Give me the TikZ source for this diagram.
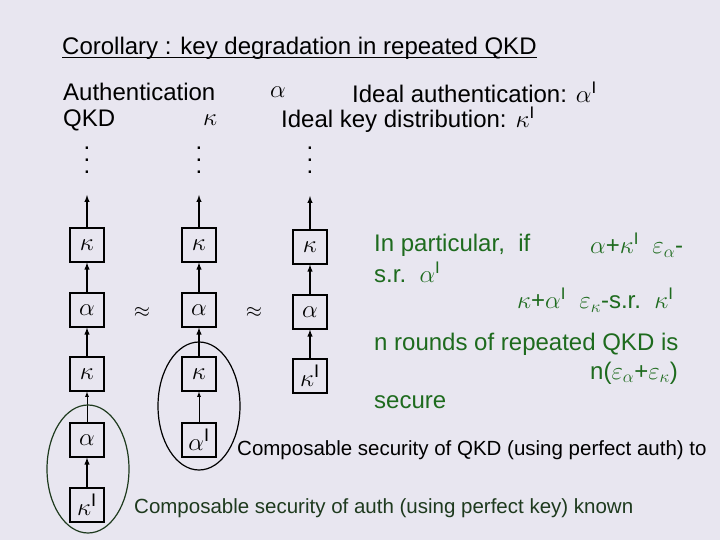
\documentclass[tikz,border=0pt]{standalone}
\usepackage{fontspec}
\setmainfont{Liberation Sans}
\definecolor{bg}{HTML}{E8E6F0}
\definecolor{gr}{HTML}{1E6B1E}
\definecolor{dg}{HTML}{1E3A1E}
\begin{document}
\begin{tikzpicture}[x=1pt,y=-1pt,
  bx/.style={draw,line width=1.2pt,minimum width=34pt,minimum height=34pt,inner sep=0pt,font=\fontsize{26}{26}\selectfont},
  ar/.style={-latex,line width=1.4pt},
  tx/.style={anchor=west,inner sep=0pt,font=\fontsize{24}{26}\selectfont},
  gt/.style={tx,text=gr}]
\fill[bg] (0,0) rectangle (720,540);
\useasboundingbox (0,0) rectangle (720,540);
\node[tx] (title) at (62,48) {Corollary : key degradation in repeated QKD};
\draw[line width=0.9pt] ([yshift=-3pt]title.base west) -- ([yshift=-3pt]title.base east);
\node[tx] (auth) at (63,92) {Authentication};
\node[tx] (qkd) at (63,120) {QKD};
\node[tx] (a0) at (270,92) {$\alpha$};
\node[tx] (k0) at (203,120) {$\kappa$};
\node[tx] (ia) at (352,92) {Ideal authentication: $\alpha^{\mathrm{I}}$};
\node[tx] (ik) at (281,120) {Ideal key distribution: $\kappa^{\mathrm{I}}$};
% column 1
\node[bx] (c1a) at (87,245) {$\kappa$};
\node[bx] (c1b) at (87,310) {$\alpha$};
\node[bx] (c1c) at (87,374) {$\kappa$};
\node[bx] (c1d) at (87,440) {$\alpha$};
\node[bx] (c1e) at (87,505) {$\kappa^{\mathrm{I}}$};
% column 2
\node[bx] (c2a) at (199,245) {$\kappa$};
\node[bx] (c2b) at (199,310) {$\alpha$};
\node[bx] (c2c) at (199,374) {$\kappa$};
\node[bx] (c2d) at (199,440) {$\alpha^{\mathrm{I}}$};
% column 3
\node[bx] (c3a) at (310,247) {$\kappa$};
\node[bx] (c3b) at (310,312) {$\alpha$};
\node[bx] (c3c) at (310,376) {$\kappa^{\mathrm{I}}$};
\coordinate (t1) at (87,195);
\coordinate (t2) at (199,195);
\coordinate (t3) at (310,196);
\draw[ar] (c1a) -- (t1); \draw[ar] (c2a) -- (t2); \draw[ar] (c3a) -- (t3);
\draw[ar] (c1b) -- (c1a); \draw[ar] (c1c) -- (c1b); \draw[ar,line width=0.8pt] (c1d) -- (c1c); \draw[ar] (c1e) -- (c1d);
\draw[ar] (c2b) -- (c2a); \draw[ar] (c2c) -- (c2b); \draw[ar,line width=0.8pt] (c2d) -- (c2c);
\draw[ar] (c3b) -- (c3a); \draw[ar] (c3c) -- (c3b);
\foreach \x/\n in {87/d1,199/d2,310/d3}{
  \node[inner sep=0pt,font=\fontsize{24}{24}\selectfont] (\n a) at (\x,148) {.};
  \node[inner sep=0pt,font=\fontsize{24}{24}\selectfont] (\n b) at (\x,160) {.};
  \node[inner sep=0pt,font=\fontsize{24}{24}\selectfont] (\n c) at (\x,172) {.};}
\node[font=\fontsize{22}{22}\selectfont] (ap1) at (142,312) {$\approx$};
\node[font=\fontsize{22}{22}\selectfont] (ap2) at (254,312) {$\approx$};
\draw[dg,line width=1.2pt] (88,469) ellipse [x radius=41,y radius=64];
\draw[line width=1.2pt] (199,406) ellipse [x radius=41,y radius=64];
% right text
\node[gt] (p1) at (374,245) {In particular,\ \ if};
\node[gt] (p2) at (590,245) {$\alpha$+$\kappa^{\mathrm{I}}$\ \ $\varepsilon_\alpha$-};
\node[gt] (p3) at (374,272) {s.r.\ \ $\alpha^{\mathrm{I}}$};
\node[gt] (p4) at (517,300) {$\kappa$+$\alpha^{\mathrm{I}}$\ \ $\varepsilon_\kappa$-s.r.\ \ $\kappa^{\mathrm{I}}$};
\node[gt] (p5) at (374,344) {n rounds of repeated QKD is};
\node[gt] (p6) at (590,373) {n($\varepsilon_\alpha$+$\varepsilon_\kappa$)};
\node[gt] (p7) at (374,402) {secure};
\node[tx,font=\fontsize{20.5}{22}\selectfont] (cq) at (237,450) {Composable security of QKD (using perfect auth) to};
\node[tx,text=dg,font=\fontsize{20.5}{22}\selectfont] (ca) at (134,508) {Composable security of auth (using perfect key) known};
\end{tikzpicture}
\end{document}
